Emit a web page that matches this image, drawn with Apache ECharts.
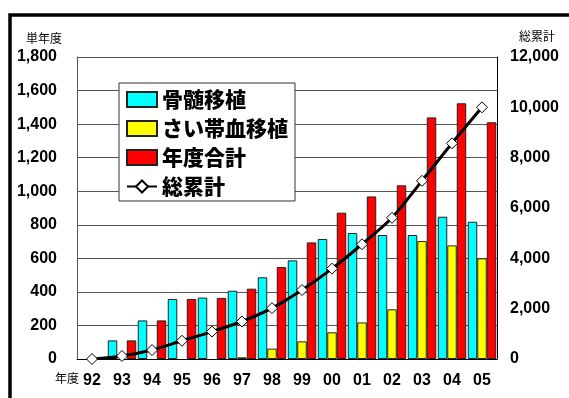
<!DOCTYPE html>
<html>
<head>
<meta charset="UTF-8">
<title>骨髄移植・さい帯血移植 件数推移</title>
<script src="https://cdn.jsdelivr.net/npm/echarts@6/dist/echarts.min.js"></script>
<style>
	html, body { margin: 0; padding: 0; background: #fff; }
	#chart { width: 569px; height: 398px; }
</style>
</head>
<body>
<div id="chart"></div>
<script>
// 年度
var years = ['92', '93', '94', '95', '96', '97', '98', '99', '00', '01', '02', '03', '04', '05'];
// 骨髄移植
var marrow = [null, 111, 230, 358, 366, 407, 487, 588, 715, 751, 739, 739, 848, 818];
// さい帯血移植
var cord = [null, null, null, null, null, 10, 62, 105, 159, 218, 296, 703, 677, 600];
// 年度合計
var total = [null, 111, 230, 358, 364, 419, 548, 695, 872, 969, 1035, 1440, 1524, 1411];
// 総累計
var cumulative = [0, 120, 355, 725, 1090, 1490, 2020, 2740, 3590, 4560, 5610, 7080, 8570, 10000];

var names = ['骨髄移植', 'さい帯血移植', '年度合計', '総累計'];

function comma(v) {
	return String(v).replace(/\B(?=(\d{3})+(?!\d))/g, ',');
}

var chart = echarts.init(document.getElementById('chart'));

var tickFont = {
	color: '#000',
	fontFamily: '"Liberation Sans", Arial, sans-serif',
	fontWeight: 'bold',
	fontSize: 16
};

var barBorder = { borderColor: '#222', borderWidth: 1 };

var option = {
	animation: false,
	backgroundColor: '#fff',
	grid: { left: 77, right: 72, top: 57, bottom: 39 },
	legend: {
		left: 119,
		top: 83,
		orient: 'vertical',
		backgroundColor: '#fff',
		borderColor: '#333',
		borderWidth: 1,
		padding: [6, 7, 4, 7],
		itemGap: 8,
		itemWidth: 30,
		itemHeight: 15,
		textStyle: {
			color: '#000',
			fontFamily: '"Noto Sans CJK JP", sans-serif',
			fontWeight: 900,
			fontSize: 21
		},
		data: [
			{ name: names[0], icon: 'rect' },
			{ name: names[1], icon: 'rect' },
			{ name: names[2], icon: 'rect' },
			{ name: names[3] }
		]
	},
	xAxis: {
		type: 'category',
		data: years,
		axisLine: { lineStyle: { color: '#000', width: 1 } },
		axisTick: { show: false },
		axisLabel: Object.assign({ margin: 14 }, tickFont)
	},
	yAxis: [{
		type: 'value',
		min: 0,
		max: 1800,
		interval: 200,
		axisLine: { show: true, lineStyle: { color: '#555' } },
		axisTick: { show: false },
		splitLine: { lineStyle: { color: '#555', width: 1 } },
		axisLabel: Object.assign({ margin: 20, formatter: comma }, tickFont)
	}, {
		type: 'value',
		min: 0,
		max: 12000,
		interval: 2000,
		axisLine: { show: true, lineStyle: { color: '#000' } },
		axisTick: { show: false },
		splitLine: { show: false },
		axisLabel: Object.assign({ margin: 13, formatter: comma }, tickFont)
	}],
	series: [{
		name: names[0],
		type: 'bar',
		data: marrow,
		barGap: '0%',
		barCategoryGap: '5%',
		itemStyle: Object.assign({ color: '#00FFFF' }, barBorder)
	}, {
		name: names[1],
		type: 'bar',
		data: cord,
		barGap: '0%',
		barCategoryGap: '5%',
		itemStyle: Object.assign({ color: '#FFFF00' }, barBorder)
	}, {
		name: names[2],
		type: 'bar',
		data: total,
		barGap: '0%',
		barCategoryGap: '5%',
		itemStyle: Object.assign({ color: '#FF0000' }, barBorder)
	}, {
		name: names[3],
		type: 'line',
		yAxisIndex: 1,
		data: cumulative,
		smooth: 0.3,
		symbol: 'diamond',
		symbolSize: 11,
		showAllSymbol: true,
		lineStyle: { color: '#000', width: 3 },
		itemStyle: { color: '#fff', borderColor: '#000', borderWidth: 1 },
		z: 5
	}],
	graphic: [{
		type: 'rect',
		shape: { x: 10, y: 15, width: 700, height: 500 },
		style: { fill: 'none', stroke: '#000', lineWidth: 3.5 },
		silent: true
	}, {
		type: 'text',
		left: 26,
		top: 32,
		style: { text: '単年度', fill: '#000', font: '12px "Noto Sans CJK JP", sans-serif' }
	}, {
		type: 'text',
		left: 519,
		top: 30,
		style: { text: '総累計', fill: '#000', font: '12px "Noto Sans CJK JP", sans-serif' }
	}, {
		type: 'text',
		left: 55,
		top: 372,
		style: { text: '年度', fill: '#000', font: '12px "Noto Sans CJK JP", sans-serif' }
	}]
};

chart.setOption(option);
</script>
</body>
</html>
